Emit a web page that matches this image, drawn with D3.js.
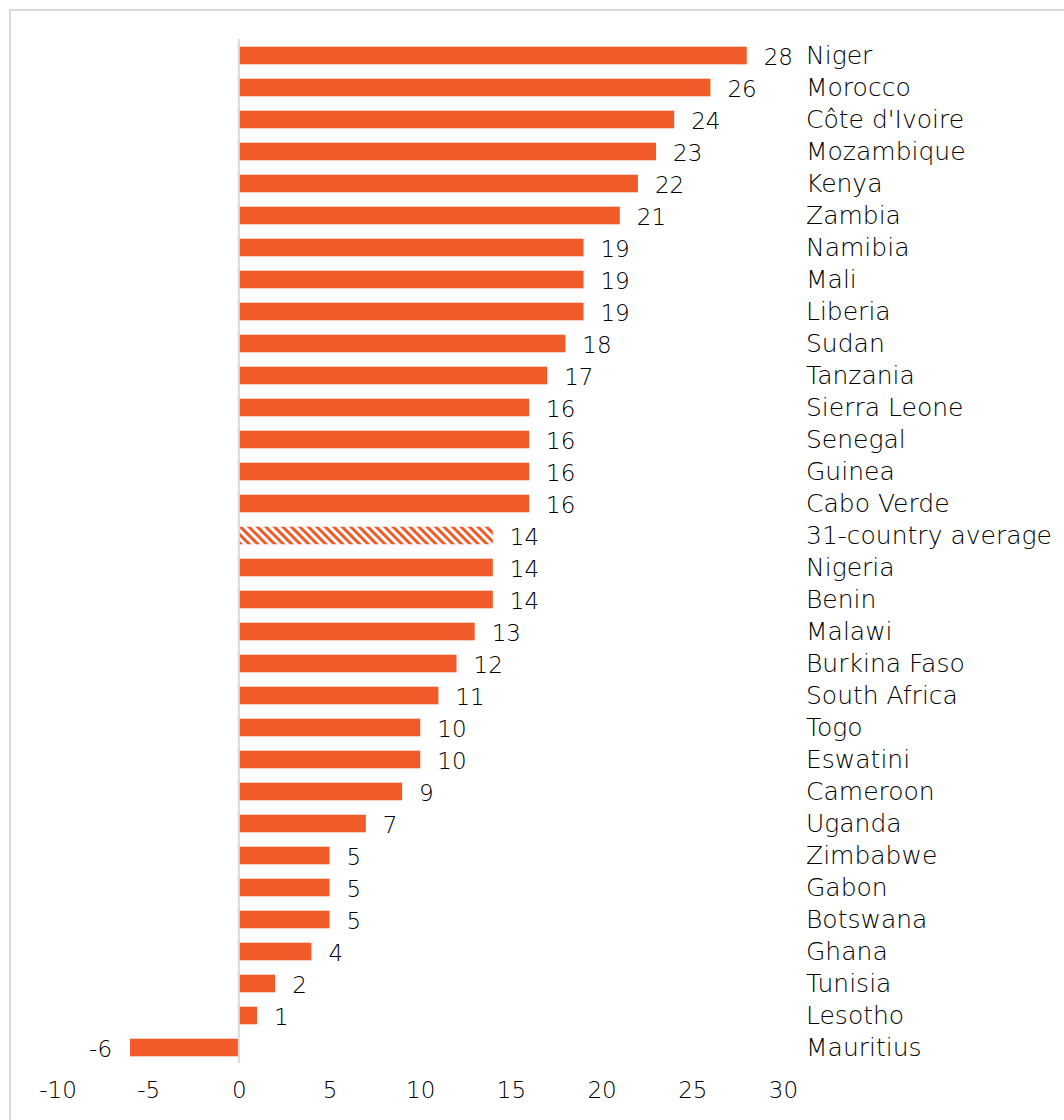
<!DOCTYPE html>
<html><head><meta charset="utf-8">
<script src="https://cdn.jsdelivr.net/npm/d3@7"></script>
<style>body{margin:0;background:#fff;} svg{display:block;}</style>
</head><body>
<script>
const countries = ["Niger","Morocco","Côte d'Ivoire","Mozambique","Kenya","Zambia","Namibia","Mali","Liberia","Sudan","Tanzania","Sierra Leone","Senegal","Guinea","Cabo Verde","31-country average","Nigeria","Benin","Malawi","Burkina Faso","South Africa","Togo","Eswatini","Cameroon","Uganda","Zimbabwe","Gabon","Botswana","Ghana","Tunisia","Lesotho","Mauritius"];
const values = [28,26,24,23,22,21,19,19,19,18,17,16,16,16,16,14,14,14,13,12,11,10,10,9,7,5,5,5,4,2,1,-6];
const averageLabel = "31-country average";
const xTicks = [-10,-5,0,5,10,15,20,25,30];

const W = 1064, H = 1120;
const orange = "#F15A29";
const font = "'DejaVu Sans', sans-serif";
const fw = 200;
const svg = d3.select("body").append("svg").attr("width", W).attr("height", H);

const defs = svg.append("defs");
const pat = defs.append("pattern").attr("id","hatch").attr("patternUnits","userSpaceOnUse")
  .attr("width",6).attr("height",6).attr("patternTransform","rotate(-45)");
pat.append("rect").attr("width",6).attr("height",6).attr("fill","#fff");
pat.append("rect").attr("width",3).attr("height",6).attr("fill",orange);

// border
svg.append("rect").attr("x",10).attr("y",10).attr("width",W+20).attr("height",H+20)
  .attr("fill","none").attr("stroke","#d9d9d9").attr("stroke-width",2);

const x = d3.scaleLinear().domain([-10,30]).range([57.5,783]);
const y = d3.scaleBand().domain(countries).range([39.5,1063.5]).paddingInner(0.45).paddingOuter(0.225);

svg.append("g").selectAll("rect").data(countries).join("rect")
  .attr("x", (d,i)=>x(Math.min(0,values[i])))
  .attr("width", (d,i)=>Math.abs(x(values[i])-x(0)))
  .attr("y", d=>y(d))
  .attr("height", y.bandwidth())
  .attr("fill", d=> d===averageLabel ? "url(#hatch)" : orange);

svg.append("line").attr("x1",x(0)).attr("x2",x(0)).attr("y1",39).attr("y2",1063)
  .attr("stroke","#d9d9d9").attr("stroke-width",2);

svg.append("g").selectAll("text").data(countries).join("text")
  .attr("x",(d,i)=> values[i]>=0 ? x(values[i])+17 : x(values[i])-18)
  .attr("y", d=>y(d)+y.bandwidth()/2+1)
  .attr("dy","0.35em")
  .attr("text-anchor",(d,i)=> values[i]>=0 ? "start":"end")
  .attr("font-family",font).attr("font-weight",fw).attr("font-size",23).attr("fill","#000")
  .text((d,i)=>String(values[i]));

svg.append("g").selectAll("text").data(countries).join("text")
  .attr("x",806)
  .attr("y", d=>y(d)+y.bandwidth()/2)
  .attr("dy","0.35em")
  .attr("font-family",font).attr("font-weight",fw).attr("font-size",25).attr("fill","#000")
  .text(d=>d);

const axis = d3.axisBottom(x).tickValues(xTicks).tickSize(0).tickPadding(0).tickFormat(d=>String(d));
const ag = svg.append("g").attr("transform","translate(0,1082)").call(axis);
ag.select(".domain").remove();
ag.selectAll("text").attr("font-family",font).attr("font-weight",fw).attr("font-size",23).attr("fill","#000").attr("dy","0.71em");
</script>
</body></html>
